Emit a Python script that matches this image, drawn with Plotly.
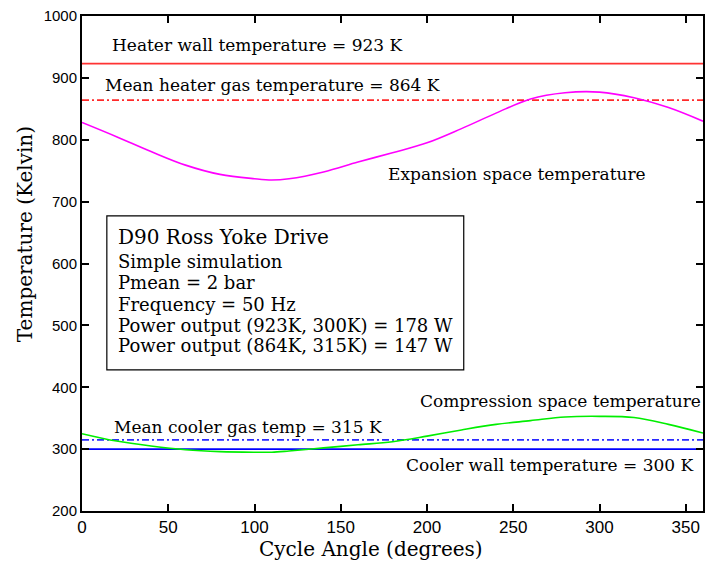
import plotly.graph_objects as go

# Crank angle samples (degrees)
angle = [0, 20, 40, 60, 80, 100, 110, 120, 140, 160, 180, 200, 220, 240, 260, 280, 300, 320, 340, 360]

# Expansion space gas temperature (K)
t_expansion = [828, 805, 781, 759, 744, 737, 735, 737, 748, 764, 779, 795, 818, 843, 866, 876, 877, 868, 852, 830]

# Compression space gas temperature (K)
t_compression = [325, 313, 305, 299, 296, 295, 295, 297, 302, 307, 312, 321, 331, 340, 346, 352, 353, 351, 340, 326]

# Reference temperatures (K)
t_heater_wall = 923
t_heater_gas = 864
t_cooler_gas = 315
t_cooler_wall = 300

x_ticks = [0, 50, 100, 150, 200, 250, 300, 350]
y_ticks = [200, 300, 400, 500, 600, 700, 800, 900, 1000]

# Engine summary shown in the boxed note
info_title = "D90 Ross Yoke Drive"
info_lines = [
    "Simple simulation",
    "Pmean = 2 bar",
    "Frequency = 50 Hz",
    "Power output (923K, 300K) = 178 W",
    "Power output (864K, 315K) = 147 W",
]

SERIF = "DejaVu Serif, Liberation Serif, serif"
DASHDOT = "7px,3px,2px,3px"

fig = go.Figure()

def hline(value, color, dash):
    fig.add_trace(go.Scatter(
        x=[angle[0], angle[-1]], y=[value, value], mode="lines",
        line=dict(color=color, width=1.6, dash=dash),
        hoverinfo="skip", showlegend=False))

hline(t_heater_wall, "#ff3333", "solid")
hline(t_heater_gas, "#ff2a2a", DASHDOT)
hline(t_cooler_gas, "#2a2aff", DASHDOT)
hline(t_cooler_wall, "#0000ff", "solid")

fig.add_trace(go.Scatter(
    x=angle, y=t_expansion, mode="lines", line=dict(color="#ff00ff", width=1.6, shape="spline"),
    showlegend=False, name="Expansion space"))
fig.add_trace(go.Scatter(
    x=angle, y=t_compression, mode="lines", line=dict(color="#00ee00", width=1.6, shape="spline"),
    showlegend=False, name="Compression space"))

labels = [
    (16.2, 953, f"Heater wall temperature = {t_heater_wall} K"),
    (12.1, 888, f"Mean heater gas temperature = {t_heater_gas} K"),
    (176, 745, "Expansion space temperature"),
    (194.5, 377, "Compression space temperature"),
    (17.2, 336, f"Mean cooler gas temp = {t_cooler_gas} K"),
    (186.5, 274, f"Cooler wall temperature = {t_cooler_wall} K"),
]
for x, y, txt in labels:
    fig.add_annotation(x=x, y=y, text=txt, showarrow=False, xanchor="left", yanchor="middle",
                       font=dict(family=SERIF, size=17, color="black"))

# Boxed note with tight line spacing
fig.add_shape(type="rect", xref="x", yref="y", x0=14.4, x1=221.3, y0=428, y1=677,
              line=dict(color="black", width=1.2), fillcolor="white", layer="above")
note_y = [643, 604, 568.5, 534.5, 500.6, 466.7]
for i, (txt, y) in enumerate(zip([info_title] + info_lines, note_y)):
    fig.add_annotation(x=19.6, y=y, text=txt, showarrow=False, xanchor="left", yanchor="middle",
                       font=dict(family=SERIF, size=20 if i == 0 else 18, color="black"))

# Axis titles
fig.add_annotation(xref="paper", yref="paper", x=(372 - 82) / 623, y=-(563 - 511) / 495,
                   text="Cycle Angle (degrees)", showarrow=False, xanchor="center", yanchor="bottom",
                   font=dict(family=SERIF, size=20, color="black"))
fig.add_annotation(xref="paper", yref="paper", x=-(82 - 25) / 623, y=1 - (234 - 16) / 495,
                   text="Temperature (Kelvin)", textangle=-90, showarrow=False,
                   xanchor="center", yanchor="middle",
                   font=dict(family=SERIF, size=20, color="black"))

axis_common = dict(showgrid=False, zeroline=False, showline=True, linecolor="black", linewidth=2,
                   ticks="inside", ticklen=7, tickwidth=1.5, tickcolor="black", mirror="ticks")

fig.update_xaxes(range=[0, 360], tickvals=x_ticks,
                 tickfont=dict(family="Liberation Sans Narrow, Arial Narrow, sans-serif", size=17, color="black"),
                 **axis_common)
fig.update_yaxes(range=[200, 1000], tickvals=y_ticks,
                 tickfont=dict(family="Liberation Sans, Arial, sans-serif", size=15, color="black"),
                 **axis_common)

fig.update_layout(width=705, height=563, margin=dict(l=82, r=0, t=16, b=52),
                  paper_bgcolor="white", plot_bgcolor="white", showlegend=False)

fig.write_html("out.html")
